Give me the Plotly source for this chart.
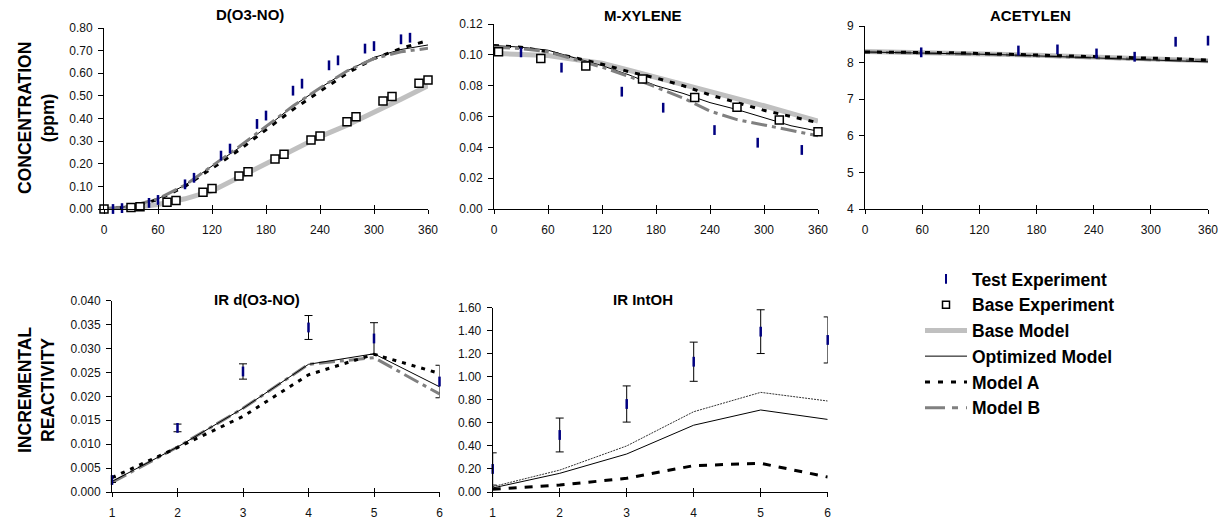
import plotly.graph_objects as go

W, H = 1228, 523

# ---------------- data ----------------
t_model = [0, 30, 60, 90, 120, 150, 180, 210, 240, 270, 300, 330, 360]

# D(O3-NO)
do3no_test_t = [10, 20, 50, 60, 90, 100, 130, 140, 170, 180, 210, 220, 250, 260, 290, 300, 330, 340]
do3no_test = [0.000, 0.004, 0.027, 0.040, 0.109, 0.138, 0.236, 0.267, 0.376, 0.413,
              0.523, 0.554, 0.635, 0.657, 0.709, 0.720, 0.750, 0.757]
do3no_base_t = [0, 30, 40, 70, 80, 110, 120, 150, 160, 190, 200, 230, 240, 270, 280, 310, 320, 350, 360]
do3no_base = [0.000, 0.007, 0.010, 0.030, 0.038, 0.074, 0.091, 0.146, 0.165, 0.221, 0.242,
              0.305, 0.323, 0.386, 0.408, 0.477, 0.497, 0.556, 0.570]
do3no_base_model = [0, 0.005, 0.020, 0.045, 0.080, 0.140, 0.205, 0.265, 0.320, 0.370, 0.425, 0.485, 0.545]
do3no_opt = [0, 0.012, 0.045, 0.105, 0.190, 0.270, 0.360, 0.455, 0.535, 0.610, 0.670, 0.705, 0.725]
do3no_a = [0, 0.010, 0.042, 0.100, 0.180, 0.260, 0.350, 0.440, 0.520, 0.600, 0.665, 0.710, 0.745]
do3no_b = [0, 0.012, 0.045, 0.105, 0.190, 0.275, 0.365, 0.455, 0.535, 0.610, 0.665, 0.695, 0.710]

# M-XYLENE
mxyl_test_t = [30, 75, 142, 188, 245, 293, 342]
mxyl_test = [0.1016, 0.0917, 0.0761, 0.0657, 0.0512, 0.0430, 0.0383]
mxyl_base_t = [5, 52, 102, 165, 223, 270, 317, 360]
mxyl_base = [0.1020, 0.0977, 0.0928, 0.0843, 0.0724, 0.0660, 0.0577, 0.0501]
mxyl_base_model = [0.101, 0.1005, 0.0995, 0.097, 0.0945, 0.090, 0.0855, 0.081, 0.076, 0.0715, 0.067, 0.062, 0.057]
mxyl_opt = [0.106, 0.105, 0.103, 0.098, 0.093, 0.087, 0.080, 0.075, 0.069, 0.0645, 0.059, 0.054, 0.0505]
mxyl_a = [0.106, 0.105, 0.102, 0.098, 0.094, 0.089, 0.085, 0.080, 0.074, 0.069, 0.064, 0.060, 0.056]
mxyl_b = [0.105, 0.104, 0.102, 0.097, 0.092, 0.086, 0.079, 0.072, 0.0635, 0.058, 0.0545, 0.051, 0.0475]

# ACETYLEN
acet_test_t = [59, 161, 202, 243, 283, 326, 360]
acet_test = [8.28, 8.33, 8.36, 8.25, 8.16, 8.57, 8.60]
acet_base_model = [8.30, 8.29, 8.28, 8.26, 8.24, 8.22, 8.20, 8.17, 8.14, 8.11, 8.09, 8.07, 8.05]
acet_opt = [8.29, 8.28, 8.27, 8.25, 8.23, 8.21, 8.19, 8.16, 8.13, 8.10, 8.08, 8.05, 8.02]
acet_a = [8.29, 8.29, 8.28, 8.27, 8.25, 8.23, 8.21, 8.19, 8.17, 8.15, 8.13, 8.10, 8.07]
acet_b = [8.29, 8.28, 8.27, 8.25, 8.23, 8.21, 8.18, 8.15, 8.12, 8.10, 8.08, 8.06, 8.05]

# IR d(O3-NO)
ir_x = [1, 2, 3, 4, 5, 6]
ird_test = [0.0025, 0.0134, 0.0252, 0.0344, 0.0321, 0.0231]
ird_err = [0.0005, 0.0008, 0.0016, 0.0025, 0.0033, 0.0034]
ird_opt = [0.0022, 0.0094, 0.0175, 0.0267, 0.0289, 0.0220]
ird_a = [0.0030, 0.0093, 0.0158, 0.0245, 0.0288, 0.0248]
ird_b = [0.0020, 0.0094, 0.0175, 0.0267, 0.0281, 0.0205]

# IR IntOH
iroh_test = [0.20, 0.495, 0.764, 1.131, 1.392, 1.32]
iroh_err = [0.14, 0.147, 0.157, 0.17, 0.19, 0.20]
iroh_upper = [0.046, 0.19, 0.40, 0.697, 0.865, 0.79]
iroh_opt = [0.035, 0.162, 0.33, 0.58, 0.712, 0.63]
iroh_a = [0.023, 0.06, 0.119, 0.229, 0.249, 0.13]

panel_titles = ["D(O3-NO)", "M-XYLENE", "ACETYLEN", "IR d(O3-NO)", "IR IntOH"]
legend_names = ["Test Experiment", "Base Experiment", "Base Model", "Optimized Model", "Model A", "Model B"]

# ---------------- styles ----------------
FONT = "Liberation Sans, Arial, sans-serif"
NAVY = "#000080"
test_marker = dict(symbol="line-ns", size=7, line=dict(width=2.5, color=NAVY))
base_marker = dict(symbol="square", size=8, color="white", line=dict(width=1.5, color="black"))
base_line = dict(color="#c0c0c0", width=5)
opt_line = dict(color="black", width=1)
a_line = dict(color="black", width=3, dash="5px,7px")
b_line = dict(color="#808080", width=3, dash="16px,5px,4px,5px")

fig = go.Figure()


def ax(n):
    return ("x" if n == 1 else f"x{n}"), ("y" if n == 1 else f"y{n}")


def add(n, **kw):
    xa, ya = ax(n)
    kw.setdefault("showlegend", False)
    kw.setdefault("cliponaxis", False)
    fig.add_trace(go.Scatter(xaxis=xa, yaxis=ya, **kw))


# panel 1 : D(O3-NO)
add(1, x=t_model, y=do3no_base_model, mode="lines", line=base_line, name=legend_names[2])
add(1, x=t_model, y=do3no_opt, mode="lines", line=opt_line, name=legend_names[3])
add(1, x=t_model, y=do3no_a, mode="lines", line=a_line, name=legend_names[4])
add(1, x=t_model, y=do3no_b, mode="lines", line=b_line, name=legend_names[5])
add(1, x=do3no_base_t, y=do3no_base, mode="markers", marker=base_marker, name=legend_names[1])
add(1, x=do3no_test_t, y=do3no_test, mode="markers", marker=test_marker, name=legend_names[0])

# panel 2 : M-XYLENE
add(2, x=t_model, y=mxyl_base_model, mode="lines", line=base_line, name=legend_names[2])
add(2, x=t_model, y=mxyl_opt, mode="lines", line=opt_line, name=legend_names[3])
add(2, x=t_model, y=mxyl_a, mode="lines", line=a_line, name=legend_names[4])
add(2, x=t_model, y=mxyl_b, mode="lines", line=b_line, name=legend_names[5])
add(2, x=mxyl_base_t, y=mxyl_base, mode="markers", marker=base_marker, name=legend_names[1])
add(2, x=mxyl_test_t, y=mxyl_test, mode="markers", marker=test_marker, name=legend_names[0])

# panel 3 : ACETYLEN
add(3, x=t_model, y=acet_base_model, mode="lines", line=base_line, name=legend_names[2])
add(3, x=t_model, y=acet_b, mode="lines", line=b_line, name=legend_names[5])
add(3, x=t_model, y=acet_a, mode="lines", line=a_line, name=legend_names[4])
add(3, x=t_model, y=acet_opt, mode="lines", line=opt_line, name=legend_names[3])
add(3, x=acet_test_t, y=acet_test, mode="markers", marker=test_marker, name=legend_names[0])

# panel 4 : IR d(O3-NO)
add(4, x=ir_x, y=ird_b, mode="lines", line=b_line, name=legend_names[5])
add(4, x=ir_x, y=ird_a, mode="lines", line=dict(color="black", width=3, dash="4px,6px"), name=legend_names[4])
add(4, x=ir_x, y=ird_opt, mode="lines", line=opt_line, name=legend_names[3])
add(4, x=ir_x, y=ird_test, mode="markers", marker=test_marker, name=legend_names[0],
    error_y=dict(type="data", array=ird_err, color="black", thickness=1, width=4))

# panel 5 : IR IntOH
add(5, x=ir_x, y=iroh_upper, mode="lines", line=dict(color="#333333", width=1, dash="2px,1px"), name="Model B")
add(5, x=ir_x, y=iroh_opt, mode="lines", line=opt_line, name=legend_names[3])
add(5, x=ir_x, y=iroh_a, mode="lines", line=dict(color="black", width=3, dash="8px,8px"), name=legend_names[4])
add(5, x=ir_x, y=iroh_test, mode="markers", marker=test_marker, name=legend_names[0],
    error_y=dict(type="data", array=iroh_err, color="black", thickness=1, width=4))

# legend-only entries in desired order
legend_styles = [
    dict(mode="markers", marker=dict(symbol="line-ns", size=7, line=dict(width=2, color=NAVY))),
    dict(mode="markers", marker=dict(symbol="square", size=7, color="white", line=dict(width=1.5, color="black"))),
    dict(mode="lines", line=base_line),
    dict(mode="lines", line=opt_line),
    dict(mode="lines", line=dict(color="black", width=3, dash="5px,8px")),
    dict(mode="lines", line=dict(color="#808080", width=3, dash="20px,7px,6px,8px")),
]
for nm, st in zip(legend_names, legend_styles):
    fig.add_trace(go.Scatter(x=[None], y=[None], name=nm, showlegend=True, xaxis="x", yaxis="y", **st))

# ---------------- axes ----------------
panels = [
    dict(x=(104, 428), y=(28, 209), xr=[0, 360], xd=60, yr=[0, 0.8], yd=0.1, yf=".2f", so=6),
    dict(x=(494, 818), y=(24, 209), xr=[0, 360], xd=60, yr=[0, 0.12], yd=0.02, yf=".2f", so=6),
    dict(x=(865, 1208), y=(26, 209), xr=[0, 360], xd=60, yr=[4, 9], yd=1, yf="d", so=6),
    dict(x=(112, 439.5), y=(300.7, 492), xr=[1, 6], xd=1, yr=[0, 0.04], yd=0.005, yf=".3f", so=6),
    dict(x=(492.7, 827.7), y=(307.7, 492), xr=[1, 6], xd=1, yr=[0, 1.6], yd=0.2, yf=".2f", so=6),
]

tickfont = dict(family=FONT, size=12, color="#111111")
layout_axes = {}
for i, p in enumerate(panels, start=1):
    xs = "xaxis" if i == 1 else f"xaxis{i}"
    ys = "yaxis" if i == 1 else f"yaxis{i}"
    ya = "y" if i == 1 else f"y{i}"
    xa = "x" if i == 1 else f"x{i}"
    layout_axes[xs] = dict(
        domain=[p["x"][0] / W, p["x"][1] / W], range=p["xr"], dtick=p["xd"], tick0=p["xr"][0],
        anchor=ya, showgrid=False, zeroline=False, showline=True, linecolor="black", linewidth=1,
        ticks="outside", ticklen=4, tickcolor="black", tickwidth=1, tickfont=tickfont,
        ticklabelstandoff=p["so"], fixedrange=True)
    layout_axes[ys] = dict(
        domain=[1 - p["y"][1] / H, 1 - p["y"][0] / H], range=p["yr"], dtick=p["yd"], tick0=p["yr"][0],
        anchor=xa, showgrid=False, zeroline=False, showline=True, linecolor="black", linewidth=1,
        ticks="outside", ticklen=5, tickcolor="black", tickwidth=1, tickfont=tickfont,
        tickformat=p["yf"], ticklabelstandoff=3, fixedrange=True)
    # overlay x axis for crossing ticks
    j = i + 5
    layout_axes[f"xaxis{j}"] = dict(
        domain=[p["x"][0] / W, p["x"][1] / W], range=p["xr"], dtick=p["xd"], tick0=p["xr"][0],
        anchor=ya, overlaying=xa, showgrid=False, zeroline=False, showline=False,
        ticks="inside", ticklen=4, tickcolor="black", tickwidth=1, showticklabels=False,
        tickfont=tickfont, fixedrange=True)
    fig.add_trace(go.Scatter(x=[None], y=[None], xaxis=f"x{j}", yaxis=ya, showlegend=False, hoverinfo="skip"))

# ---------------- annotations ----------------
title_pos = [(250, 15), (643, 16), (1030, 16), (257, 299), (643, 299)]
annotations = []
for txt, (cx, cy) in zip(panel_titles, title_pos):
    annotations.append(dict(text=f"<b>{txt}</b>", x=cx / W, y=1 - cy / H, xref="paper", yref="paper",
                            xanchor="center", yanchor="middle", showarrow=False,
                            font=dict(family=FONT, size=15, color="black")))
annotations.append(dict(text="<b>CONCENTRATION</b><br><b>(ppm)</b>", x=36 / W, y=1 - 118 / H,
                        xref="paper", yref="paper", xanchor="center", yanchor="middle",
                        showarrow=False, textangle=-90,
                        font=dict(family=FONT, size=17.5, color="black")))
annotations.append(dict(text="<b>INCREMENTAL</b><br><b>REACTIVITY</b>", x=36 / W, y=1 - 390 / H,
                        xref="paper", yref="paper", xanchor="center", yanchor="middle",
                        showarrow=False, textangle=-90,
                        font=dict(family=FONT, size=17.5, color="black")))

fig.update_layout(
    template="none",
    width=W, height=H, margin=dict(l=0, r=0, t=0, b=0),
    paper_bgcolor="white", plot_bgcolor="white",
    font=dict(family=FONT, color="black"),
    annotations=annotations,
    legend=dict(x=920 / W, y=1 - 261 / H, xanchor="left", yanchor="top",
                font=dict(family=FONT, size=17.5, color="black", weight="bold"),
                itemwidth=42, tracegroupgap=0, bgcolor="rgba(0,0,0,0)"),
    showlegend=True,
    hovermode=False,
    **layout_axes,
)

fig.write_html("out.html", config={"displayModeBar": False},
               post_script="document.body.style.margin='0px';document.body.style.overflow='hidden';")
